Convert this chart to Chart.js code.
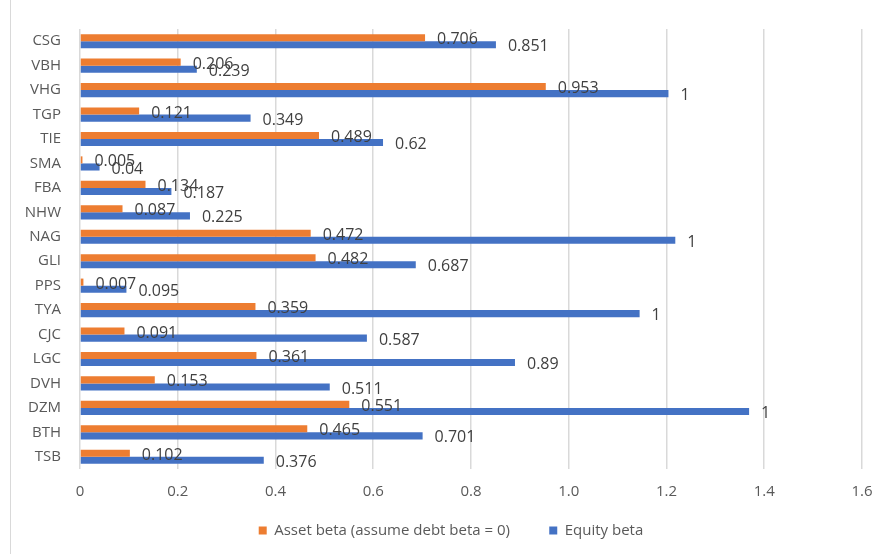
<!DOCTYPE html>
<html>
<head>
<meta charset="utf-8">
<script src="https://cdn.jsdelivr.net/npm/chart.js@4"></script>
<style>
  html, body { margin: 0; padding: 0; background: #fff; }
  #wrap { position: relative; width: 882px; height: 554px; }
  #edge { position: absolute; left: 10px; top: 0; width: 1px; height: 554px; background: #d9d9d9; }
</style>
</head>
<body>
<div id="wrap">
  <div id="edge"></div>
  <canvas id="betaChart" width="882" height="554"></canvas>
</div>
<script>
var categories = ['CSG','VBH','VHG','TGP','TIE','SMA','FBA','NHW','NAG','GLI','PPS','TYA','CJC','LGC','DVH','DZM','BTH','TSB'];
var assetBeta = [0.706,0.206,0.953,0.121,0.489,0.005,0.134,0.087,0.472,0.482,0.007,0.359,0.091,0.361,0.153,0.551,0.465,0.102];
var equityBeta = [0.851,0.239,1.204,0.349,0.62,0.04,0.187,0.225,1.218,0.687,0.095,1.145,0.587,0.89,0.511,1.369,0.701,0.376];
var seriesNames = ['Asset beta (assume debt beta = 0)', 'Equity beta'];

// label next to each bar end (values over 1 show as "1" like the source)
var barLabels = {
  id: 'barLabels',
  afterDatasetsDraw: function(chart) {
    var ctx = chart.ctx;
    ctx.save();
    ctx.font = '16px "Open Sans"';
    ctx.fillStyle = '#404040';
    ctx.textAlign = 'left';
    ctx.textBaseline = 'middle';
    chart.data.datasets.forEach(function(ds, i) {
      var meta = chart.getDatasetMeta(i);
      meta.data.forEach(function(bar, j) {
        var v = ds.data[j];
        var txt = v > 1 ? '1' : String(v);
        ctx.fillText(txt, bar.x + 12, bar.y + 2);
      });
    });
    ctx.restore();
  }
};

// legend sits a bit right of the canvas centre in the source
var legendShift = {
  id: 'legendShift',
  afterLayout: function(chart) {
    chart.legend.left += 40;
  }
};

var chart = new Chart(document.getElementById('betaChart'), {
  type: 'bar',
  data: {
    labels: categories,
    datasets: [
      { label: seriesNames[0], data: assetBeta, backgroundColor: '#ED7D31' },
      { label: seriesNames[1], data: equityBeta, backgroundColor: '#4472C4' }
    ]
  },
  options: {
    indexAxis: 'y',
    responsive: false,
    animation: false,
    barPercentage: 1,
    categoryPercentage: 0.58,
    layout: { padding: { top: 29, right: 20, bottom: 6, left: 0 } },
    scales: {
      x: {
        min: 0,
        max: 1.6,
        ticks: { stepSize: 0.2, color: '#595959', font: { family: 'Open Sans', size: 15 }, padding: 14 },
        grid: { color: '#d9d9d9', lineWidth: 1.5, drawTicks: false },
        border: { display: false },
        afterFit: function(scale) {
          scale.height = 42;
          scale.paddingLeft = 0;
          scale.paddingRight = 0;
        }
      },
      y: {
        ticks: { color: '#595959', font: { family: 'Open Sans', size: 15 }, padding: 19 },
        grid: { display: false, drawTicks: false },
        border: { display: false },
        afterFit: function(scale) {
          scale.width = 80;
          scale.paddingTop = 0;
          scale.paddingBottom = 0;
        }
      }
    },
    plugins: {
      legend: {
        position: 'bottom',
        labels: {
          boxWidth: 8, boxHeight: 8, color: '#595959', font: { family: 'Open Sans', size: 15 }, padding: 12,
          generateLabels: function(chart) {
            var items = Chart.defaults.plugins.legend.labels.generateLabels(chart);
            // wider gap between the two entries, as in the source
            items[0].text = items[0].text + '\u00a0\u00a0\u00a0\u00a0\u00a0\u00a0\u00a0';
            return items;
          }
        }
      },
      tooltip: { enabled: false }
    }
  },
  plugins: [barLabels, legendShift]
});
</script>
</body>
</html>
